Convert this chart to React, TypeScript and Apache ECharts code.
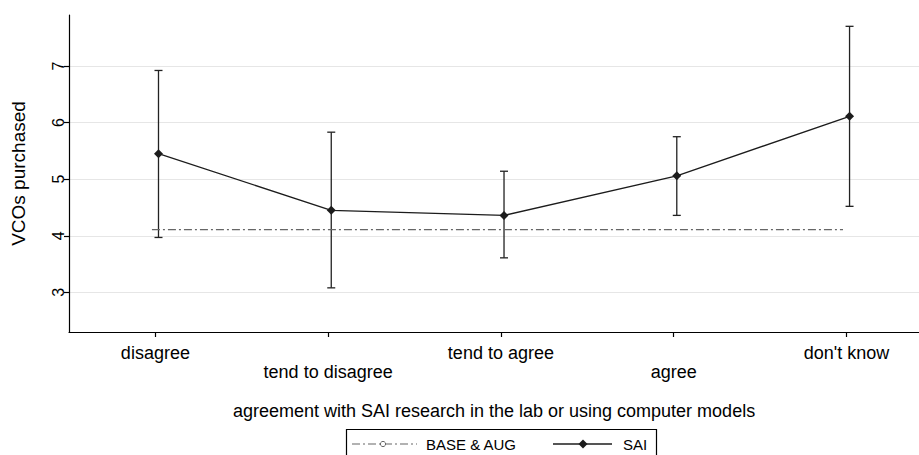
import React, { useEffect, useRef } from "react";
import * as echarts from "echarts";

const categories = ["disagree", "tend to disagree", "tend to agree", "agree", "don't know"];
const saiMean = [5.45, 4.45, 4.36, 5.06, 6.11];
const saiLow = [3.97, 3.08, 3.61, 4.36, 4.52];
const saiHigh = [6.92, 5.83, 5.14, 5.75, 7.7];
const baseMean = [4.11, 4.11, 4.11, 4.11, 4.11];
const yTicks = [3, 4, 5, 6, 7];
const legendNames = ["BASE & AUG", "SAI"];

const FONT = "'Liberation Sans', Arial, Helvetica, sans-serif";
const SAI_SHIFT = 0.018;
const BASE_SHIFT = -0.02;

export default function App() {
  const ref = useRef<HTMLDivElement>(null);
  useEffect(() => {
    document.body.style.margin = "0";
    const chart = echarts.init(ref.current!, null, { renderer: "svg" });
    const xs = categories.map((_, i) => i + 1);
    const ly = 444;
    chart.setOption({
      animation: false,
      backgroundColor: "#fff",
      textStyle: { fontFamily: FONT },
      grid: { left: 69, top: 15, right: 0, bottom: 123 },
      xAxis: {
        type: "value",
        min: 0.5,
        max: 5.42,
        axisLine: { show: true, lineStyle: { color: "#000", width: 1.2 } },
        axisTick: { show: true, length: 5, customValues: xs, lineStyle: { color: "#000", width: 1.2 } },
        axisLabel: {
          customValues: xs,
          formatter: (v: number) => {
            const i = Math.round(v) - 1;
            return i % 2 === 1 ? "\n" + categories[i] : categories[i];
          },
          fontSize: 18,
          lineHeight: 19.5,
          color: "#000",
          margin: 11,
          fontFamily: FONT,
        },
        splitLine: { show: false },
        name: "agreement with SAI research in the lab or using computer models",
        nameLocation: "middle",
        nameGap: 70,
        nameTextStyle: { fontSize: 18, color: "#000", fontFamily: FONT },
      },
      yAxis: {
        type: "value",
        min: 2.3,
        max: 7.9,
        axisLine: { show: true, lineStyle: { color: "#000", width: 1.2 } },
        axisTick: { show: true, length: 5, customValues: yTicks, lineStyle: { color: "#000", width: 1.2 } },
        axisLabel: { customValues: yTicks, rotate: 90, fontSize: 16, color: "#000", margin: 3, fontFamily: FONT },
        splitLine: { show: true, lineStyle: { color: "#e6e6e6", width: 1.2 } },
        name: "VCOs purchased",
        nameLocation: "middle",
        nameGap: 41,
        nameTextStyle: { fontSize: 19, color: "#000", fontFamily: FONT },
      },
      series: [
        {
          type: "custom",
          name: "ci",
          z: 2,
          silent: true,
          data: categories.map((_, i) => [i + 1 + SAI_SHIFT, saiLow[i], saiHigh[i]]),
          encode: { x: 0, y: [1, 2] },
          renderItem: (params: any, api: any) => {
            const x = api.value(0);
            const lo = api.coord([x, api.value(1)]);
            const hi = api.coord([x, api.value(2)]);
            const st = { stroke: "#222", lineWidth: 1.3 };
            return {
              type: "group",
              children: [
                { type: "line", shape: { x1: lo[0], y1: lo[1], x2: hi[0], y2: hi[1] }, style: st },
                { type: "line", shape: { x1: lo[0] - 4, y1: lo[1], x2: lo[0] + 4, y2: lo[1] }, style: st },
                { type: "line", shape: { x1: hi[0] - 4, y1: hi[1], x2: hi[0] + 4, y2: hi[1] }, style: st },
              ],
            };
          },
        },
        {
          type: "line",
          name: legendNames[0],
          z: 3,
          data: baseMean.map((v, i) => [i + 1 + BASE_SHIFT, v]),
          showSymbol: false,
          symbol: "emptyCircle",
          lineStyle: { color: "#666", width: 1.2, type: [8, 3, 2, 3] },
          itemStyle: { color: "#666" },
        },
        {
          type: "line",
          name: legendNames[1],
          z: 4,
          data: saiMean.map((v, i) => [i + 1 + SAI_SHIFT, v]),
          symbol: "diamond",
          symbolSize: 9,
          lineStyle: { color: "#1c1c1c", width: 1.3 },
          itemStyle: { color: "#1c1c1c" },
        },
      ],
      graphic: [
        {
          type: "rect",
          shape: { x: 346.5, y: 429.5, width: 310, height: 40 },
          style: { fill: "#fff", stroke: "#000", lineWidth: 1.2 },
          z: 10,
        },
        {
          type: "line",
          shape: { x1: 352, y1: ly, x2: 417, y2: ly },
          style: { stroke: "#666", lineWidth: 1.2, lineDash: [8, 3, 2, 3] },
          z: 11,
        },
        {
          type: "circle",
          shape: { cx: 383, cy: ly, r: 2.6 },
          style: { fill: "#fff", stroke: "#666", lineWidth: 1 },
          z: 12,
        },
        {
          type: "text",
          x: 426,
          y: ly,
          style: { text: legendNames[0], fontSize: 15, fontFamily: FONT, fill: "#000", verticalAlign: "middle" },
          z: 11,
        },
        {
          type: "line",
          shape: { x1: 553, y1: ly, x2: 612, y2: ly },
          style: { stroke: "#1c1c1c", lineWidth: 1.3 },
          z: 11,
        },
        {
          type: "polygon",
          shape: { points: [[583, ly - 4.5], [587.5, ly], [583, ly + 4.5], [578.5, ly]] },
          style: { fill: "#1c1c1c" },
          z: 12,
        },
        {
          type: "text",
          x: 623,
          y: ly,
          style: { text: legendNames[1], fontSize: 15, fontFamily: FONT, fill: "#000", verticalAlign: "middle" },
          z: 11,
        },
      ],
    });
    return () => chart.dispose();
  }, []);
  return <div ref={ref} style={{ width: 919, height: 455 }} />;
}
